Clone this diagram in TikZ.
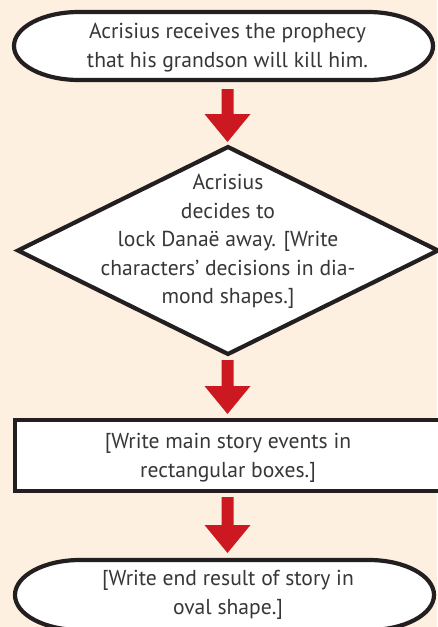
\documentclass[tikz,border=0pt]{standalone}
\usepackage{fontspec}
\setmainfont{PT Sans}
\usetikzlibrary{calc}
\definecolor{bgpeach}{RGB}{253,240,225}
\definecolor{arrowred}{RGB}{204,24,32}
\definecolor{inkline}{RGB}{35,31,32}
\definecolor{inktext}{RGB}{55,55,55}
\tikzset{
  shapeline/.style={draw=inkline, line width=4.2pt, fill=white, line join=miter},
  frame/.style={inner sep=0pt, outer sep=0pt, text=inktext, align=center,
    font=\fontsize{21.6}{28.5}\selectfont},
}
\newcommand\ovalpath[3]{% node, x radius, y radius
  \path[shapeline] ([xshift=#2]#1.north west) -- ([xshift=-#2]#1.north east)
    arc[start angle=90,end angle=-90,x radius=#2,y radius=#3]
    -- ([xshift=#2]#1.south west)
    arc[start angle=270,end angle=90,x radius=#2,y radius=#3] -- cycle;}
\newcommand\blockarrow[4]{% from, to, gap at start, gap at end
  \fill[arrowred] let \p1=(#1), \p2=(#2), \p3=(axis) in
    (\x3-6pt,\y1-#3) -- (\x3+6pt,\y1-#3) -- (\x3+6pt,\y2+#4+28pt)
    -- (\x3+23pt,\y2+#4+28pt) -- (\x3,\y2+#4) -- (\x3-23pt,\y2+#4+28pt)
    -- (\x3-6pt,\y2+#4+28pt) -- cycle;}
\begin{document}
\begin{tikzpicture}[x=1pt,y=-1pt]
\fill[bgpeach] (0,0) rectangle (437,627);
\useasboundingbox (0,0) rectangle (437,627);
\coordinate (axis) at (227.5,0);
% frames (sizes of the shapes)
\path (223.5,46) node[frame, minimum width=419pt, minimum height=68pt] (start) {};
\path (228,250.5) node[frame, minimum width=420pt, minimum height=207pt] (decide) {};
\path (228,455.5) node[frame, minimum width=426pt, minimum height=71pt] (event) {};
\path (224.5,595) node[frame, minimum width=419pt, minimum height=70pt] (finish) {};
% shapes
\ovalpath{start}{65pt}{34pt}
\path[shapeline] (decide.north) -- (decide.east) -- (decide.south) -- (decide.west) -- cycle;
\path[shapeline] (event.north west) rectangle (event.south east);
\ovalpath{finish}{65pt}{35pt}
% texts
\node[frame] at ($(start)+(4,1.5)$) {Acrisius receives the prophecy\\that his grandson will kill him.};
\node[frame] at ($(decide)+(0,-9)$) {Acrisius\\decides to\\lock Dana\"e away. [Write\\characters’ decisions in dia-\\mond shapes.]};
\node[frame] at ($(event)+(0,2.5)$) {[Write main story events in\\rectangular boxes.]};
\node[frame] at ($(finish)+(3.5,0)$) {[Write end result of story in\\oval shape.]};
% arrows
\blockarrow{start.south}{decide.north}{9pt}{5pt}
\blockarrow{decide.south}{event.north}{6pt}{6pt}
\blockarrow{event.south}{finish.north}{6pt}{7pt}
\end{tikzpicture}
\end{document}
